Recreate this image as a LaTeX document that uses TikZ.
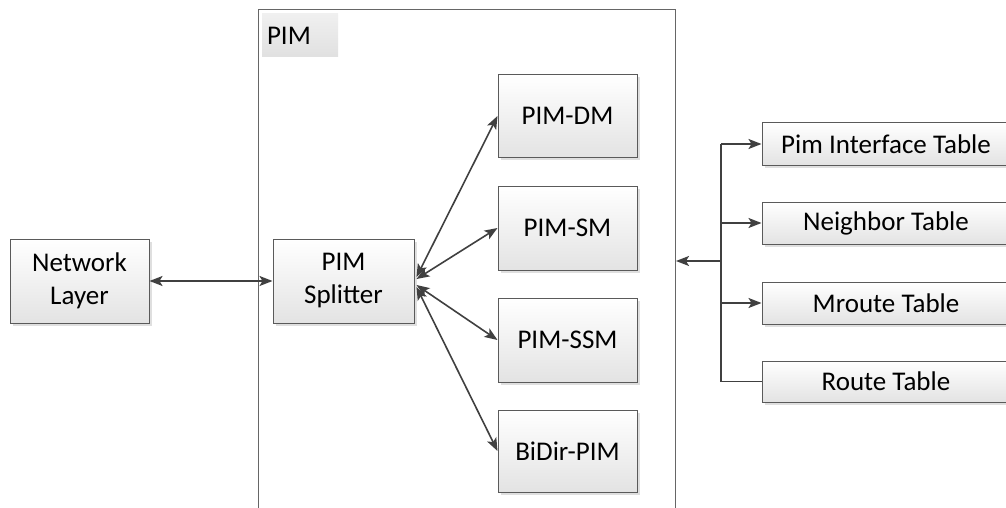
\documentclass[tikz,border=0pt]{standalone}
\usepackage{fontspec}
\setmainfont{Carlito}
\usetikzlibrary{arrows.meta,shadows,calc}
\definecolor{lineC}{HTML}{404040}
\definecolor{boxC}{HTML}{5A5A5A}
\begin{document}
\begin{tikzpicture}[x=1pt,y=-1pt,
  box/.style={draw=boxC,line width=1pt,rectangle,inner sep=0pt,
    top color=white,bottom color=black!11,
    drop shadow={shadow xshift=2.5pt,shadow yshift=-2.5pt,fill=black!35,opacity=0.35},
    font=\fontsize{27}{33}\selectfont,align=center},
  arr/.style={draw=lineC,line width=1.6pt,-{Stealth[length=13pt,width=10pt,inset=3pt]}},
  darr/.style={draw=lineC,line width=1.6pt,{Stealth[length=13pt,width=10pt,inset=3pt]}-{Stealth[length=13pt,width=10pt,inset=3pt]}},
  bus/.style={draw=lineC,line width=1.6pt}
]
\useasboundingbox (0,0) rectangle (1006,508);
\clip (0,0) rectangle (1006,508);
\fill[white] (0,0) rectangle (1006,508);

% PIM container (open at bottom)
\draw[draw=black!60,line width=1pt] (258,520) -- (258,10) -- (675,10) -- (675,520);
\node[rectangle,inner sep=0pt,minimum width=76pt,minimum height=43pt,
  top color=black!6,bottom color=black!12,font=\fontsize{27}{33}\selectfont,
  text width=66pt,align=left] (pimlbl) at (300,35.5) {PIM};

\node[box,minimum width=139pt,minimum height=84pt] (net) at (79.5,281) {Network\\Layer};
\node[box,minimum width=141pt,minimum height=84pt] (split) at (343.5,281) {PIM\\Splitter};

\node[box,minimum width=139pt,minimum height=82pt] (dm) at (567.5,116) {PIM-DM};
\node[box,minimum width=139pt,minimum height=84pt] (sm) at (567.5,228) {PIM-SM};
\node[box,minimum width=139pt,minimum height=84pt] (ssm) at (567.5,340) {PIM-SSM};
\node[box,minimum width=139pt,minimum height=82pt] (bidir) at (567.5,451) {BiDir-PIM};

\node[box,minimum width=248pt,minimum height=42pt] (pit) at (886,144) {Pim Interface Table};
\node[box,minimum width=248pt,minimum height=42pt] (nt) at (886,223) {Neighbor Table};
\node[box,minimum width=248pt,minimum height=42pt] (mt) at (886,303) {Mroute Table};
\node[box,minimum width=248pt,minimum height=41pt] (rt) at (886,381.5) {Route Table};

% connectors
\draw[darr] (net.east) -- (split.west);
\draw[darr] ([xshift=2pt,yshift=4pt]split.east) -- (dm.west);
\draw[darr] ([xshift=2pt,yshift=2pt]split.east) -- (sm.west);
\draw[darr] ([xshift=2pt,yshift=-4pt]split.east) -- (ssm.west);
\draw[darr] ([xshift=2pt,yshift=-6pt]split.east) -- (bidir.west);

\coordinate (bt) at (721,144);
\coordinate (bb) at (721,381.5);
\coordinate (bm) at (721,261);
\coordinate (pimR) at (676,261);
\draw[bus] (rt.west) -- (bb) -- (bt);
\draw[arr] (bt) -- (pit.west);
\draw[arr] (bt |- nt.west) -- (nt.west);
\draw[arr] (bt |- mt.west) -- (mt.west);
\draw[arr] (bm) -- (pimR);
\end{tikzpicture}
\end{document}
